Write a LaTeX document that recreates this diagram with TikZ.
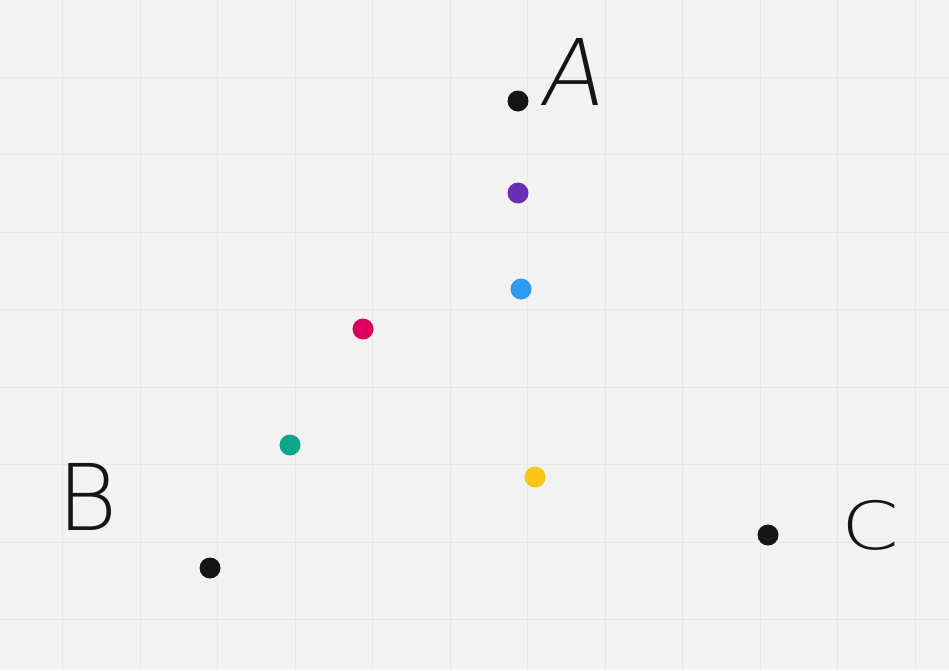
\documentclass[tikz,border=0pt]{standalone}
\usepackage{fontspec}
\newfontfamily\handfont{DejaVu Sans ExtraLight}
\usetikzlibrary{positioning}
\definecolor{boardbg}{HTML}{F2F2F2}
\definecolor{gridln}{HTML}{E7E7E7}
\definecolor{dotpurple}{HTML}{6A2DB5}
\definecolor{dotblue}{HTML}{2E9BF0}
\definecolor{dotpink}{HTML}{D9005E}
\definecolor{dotteal}{HTML}{0CA789}
\definecolor{dotyellow}{HTML}{F9C713}
\definecolor{inkblack}{HTML}{151515}

\begin{document}
\begin{tikzpicture}[x=1pt,y=-1pt,
  dot/.style={circle,inner sep=0pt,minimum size=21pt},
  letter/.style={font=\handfont\fontsize{92}{92}\selectfont,text=inkblack,inner sep=0pt}]
\fill[boardbg] (0,0) rectangle (949,670);
\useasboundingbox (0,0) rectangle (949,670);
\foreach \k in {0,...,11} \draw[gridln,line width=1pt] (62.5+77.5*\k,0) -- (62.5+77.5*\k,670);
\foreach \k in {0,...,7} \draw[gridln,line width=1pt] (0,77+77.5*\k) -- (949,77+77.5*\k);

\node[dot,fill=inkblack] (pA) at (518,101) {};
\node[dot,fill=inkblack] (pB) at (210,568) {};
\node[dot,fill=inkblack] (pC) at (768,535) {};
\node[dot,fill=dotpurple] (pur) at (518,193) {};
\node[dot,fill=dotblue] (blu) at (521,289) {};
\node[dot,fill=dotpink] (pnk) at (363,329) {};
\node[dot,fill=dotteal] (tea) at (290,445) {};
\node[dot,fill=dotyellow] (yel) at (535,477) {};

\node[letter,xslant=0.15] (lA) at (575,72) {A};
\node[letter] (lB) at (88,497) {B};
\node[letter,yscale=0.72,xscale=0.9] (lC) at (870,525) {C};
\end{tikzpicture}
\end{document}
